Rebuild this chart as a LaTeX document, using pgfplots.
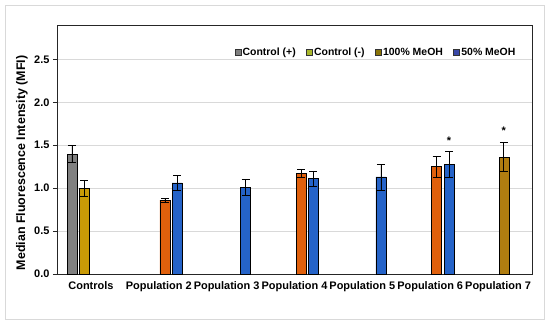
\documentclass[border=0pt]{standalone}
\usepackage{pgfplots}
\pgfplotsset{compat=1.18}
\usepackage{fontspec}
\setmainfont{Liberation Sans}
\definecolor{cgray}{HTML}{808080}
\definecolor{cgold}{HTML}{C99A06}
\definecolor{corange}{HTML}{E0600C}
\definecolor{cblue}{HTML}{2563C8}
\definecolor{cbrown}{HTML}{B07D10}
\definecolor{lgray}{HTML}{7F7F7F}
\definecolor{lgreen}{HTML}{A9B82A}
\definecolor{lolive}{HTML}{8A7408}
\definecolor{lblue}{HTML}{3A48A8}
\definecolor{gridc}{HTML}{D9D9D9}
\definecolor{borderc}{HTML}{D9D9D9}
\begin{document}
\begin{tikzpicture}
\path[use as bounding box] (-57bp,-51bp) rectangle (493bp,274bp);
\draw[color=borderc, line width=0.8bp] (-52bp,-45bp) rectangle (487bp,269bp);
\begin{axis}[
 at={(0,0)}, anchor=south west,
 scale only axis, width=475bp, height=249bp,
 xmin=-0.5, xmax=6.5, ymin=0, ymax=2.9,
 xtick={0,1,2,3,4,5,6},
 xticklabels={Controls,Population 2,Population 3,Population 4,Population 5,Population 6,Population 7},
 ytick={0,0.5,1,1.5,2,2.5},
 yticklabel style={/pgf/number format/.cd, fixed, fixed zerofill, precision=1, assume math mode=true},
 ticklabel style={font=\fontsize{11}{13}\selectfont\bfseries},
 ymajorgrids, grid style={color=gridc, line width=0.6bp},
 axis line style={black!85, line width=0.8bp},
 xtick style={draw=none},
 ytick style={black!85}, tick align=outside, major tick length=4bp, ytick pos=left,
 ylabel={Median Fluorescence Intensity (MFI)},
 ylabel style={font=\fontsize{12.5}{14}\selectfont\bfseries, at={(axis description cs:-0.0737,0.446)}, anchor=center},
 legend columns=4,
 legend style={draw=none, fill=none, at={(axis description cs:0.975,0.925)}, anchor=north east,
   font=\fontsize{10.5}{12}\selectfont\bfseries, nodes={inner xsep=1.5bp},
   /tikz/every even column/.append style={column sep=9bp}},
 legend image code/.code={\draw[#1] (0bp,-3bp) rectangle (6bp,3bp);},
 mybar/.style={ybar, bar width=10bp, bar shift=0pt, draw=black, line width=0.5bp, fill=#1, forget plot,
   error bars/y dir=both, error bars/y explicit,
   error bars/error bar style={black, line width=0.7bp},
   error bars/error mark options={rotate=90, black, mark size=4bp, line width=0.7bp}},
]
\addlegendimage{fill=lgray, draw=black!80}
\addlegendentry{Control (+)}
\addlegendimage{fill=lgreen, draw=black!80}
\addlegendentry{Control (-)}
\addlegendimage{fill=lolive, draw=black!80}
\addlegendentry{100\% MeOH}
\addlegendimage{fill=lblue, draw=black!80}
\addlegendentry{50\% MeOH}

\addplot[mybar=cgray] coordinates {(-0.28,1.40) +- (0,0.10)};
\addplot[mybar=cgold] coordinates {(-0.10,1.00) +- (0,0.09)};
\addplot[mybar=corange] coordinates {(1.09,0.86) +- (0,0.02) (3.096,1.17) +- (0,0.05) (5.095,1.25) +- (0,0.12)};
\addplot[mybar=cblue] coordinates {(1.27,1.06) +- (0,0.09) (2.28,1.01) +- (0,0.09) (3.277,1.11) +- (0,0.09) (4.274,1.13) +- (0,0.15) (5.277,1.28) +- (0,0.15)};
\addplot[mybar=cbrown] coordinates {(6.085,1.36) +- (0,0.17)};

\addplot[draw=none, mark=none, forget plot, nodes near coords={\bfseries *},
  every node near coord/.append style={anchor=center, font=\fontsize{11}{12}\selectfont, inner sep=0pt}]
  coordinates {(5.277,1.555) (6.085,1.665)};
\end{axis}
\end{tikzpicture}
\end{document}
